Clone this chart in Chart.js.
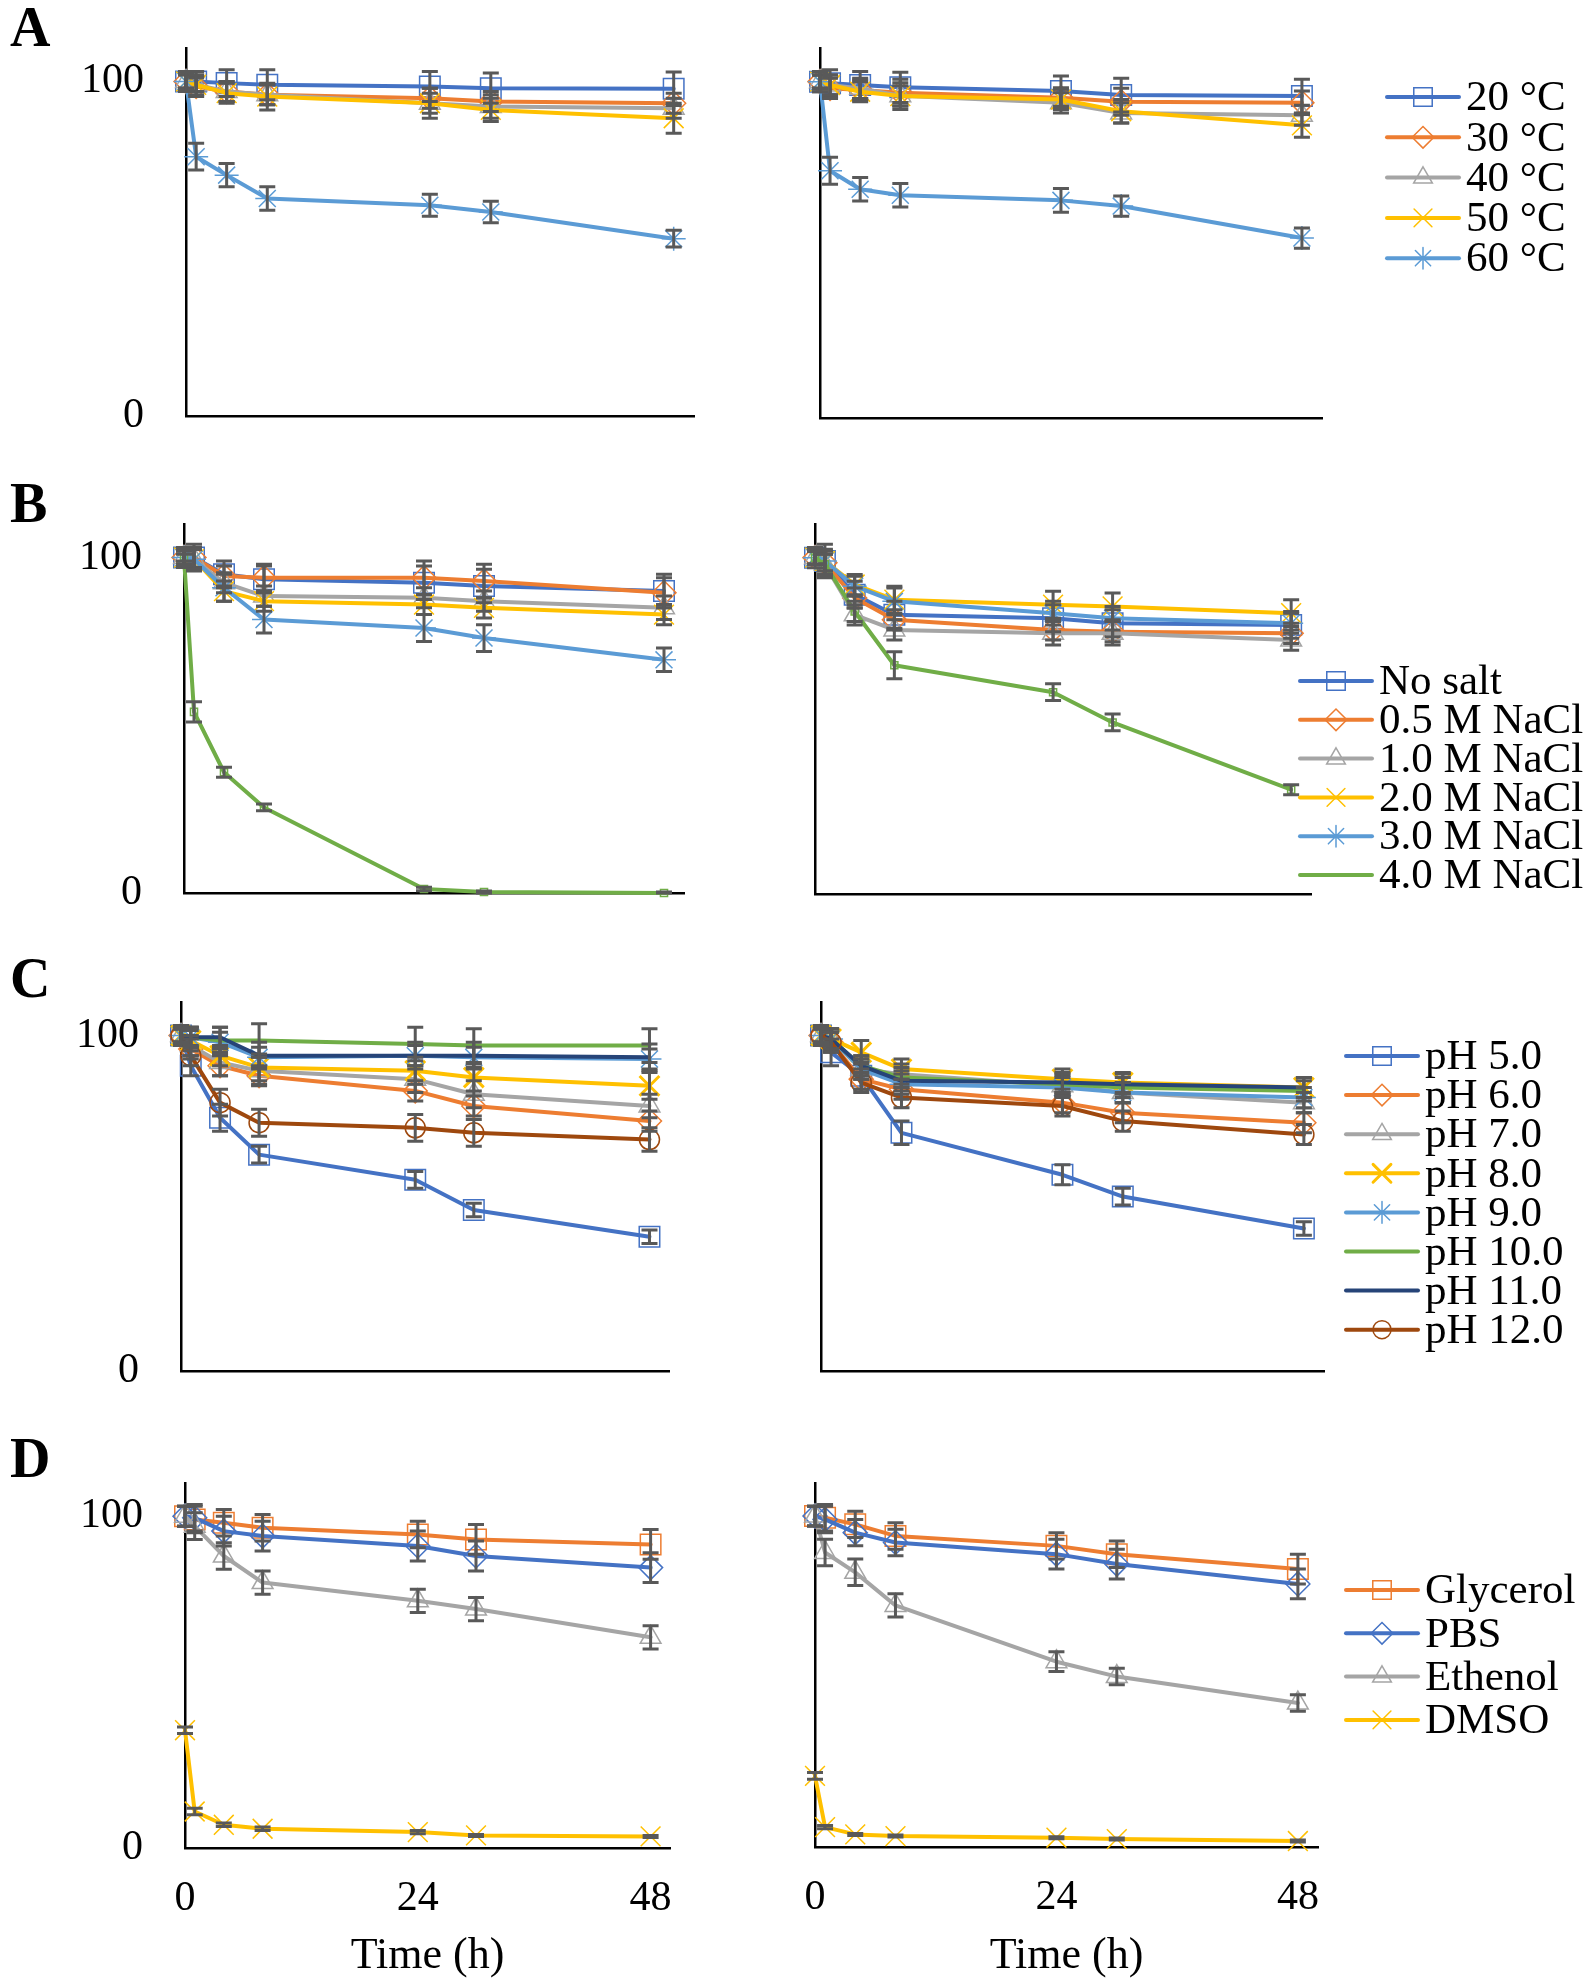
<!DOCTYPE html>
<html>
<head>
<meta charset="utf-8">
<script src="https://cdn.jsdelivr.net/npm/chart.js@4.4.1/dist/chart.umd.min.js"></script>
<style>
  body { margin: 0; background: #fff; }
  #page { position: relative; width: 1594px; height: 1987px; background: #fff; overflow: hidden; }
  canvas { position: absolute; }
  .tag { position: absolute; left: 10px; font-family: "Liberation Serif", serif; font-weight: bold; font-size: 56px; line-height: 56px; color: #000; }
</style>
</head>
<body>
<div id="page">
  <div class="tag" style="top:-1px">A</div>
  <div class="tag" style="top:475px">B</div>
  <div class="tag" style="top:950px">C</div>
  <div class="tag" style="top:1430px">D</div>
</div>
<script>
// sampling times (h), same for every panel
const hours = [0, 1, 4, 8, 24, 30, 48];
const xTicks = [0, 24, 48];
const yTicks = [0, 100];

// A - temperature
const tempNames = ['20 °C', '30 °C', '40 °C', '50 °C', '60 °C'];
const tempLeft = [
  [100, 100, 99.5, 99, 98.5, 98, 97.8],
  [100, 98.5, 97, 96, 95, 94, 93.5],
  [100, 99, 97, 96, 93.5, 92.5, 92],
  [100, 99, 96.5, 95.5, 93.5, 91.5, 89],
  [100, 77.5, 72, 65, 63, 61, 53]
];
const tempLeftErr = [
  [3, 3, 4, 4.5, 4.5, 4.5, 5],
  [2, 3, 3, 3, 3, 3, 3],
  [2, 2, 3, 3, 3, 3.5, 3],
  [2, 3, 3, 4, 4.5, 3.5, 4.5],
  [3, 4, 3.5, 3.5, 3.3, 3.2, 2.5]
];
const tempRight = [
  [100, 99.5, 99, 98.3, 97.2, 96, 95.7],
  [100, 98, 97.5, 96.7, 95.2, 94, 93.7],
  [100, 99, 98, 95.8, 93.7, 90.7, 90],
  [100, 99, 97, 95.7, 94.7, 91.2, 87],
  [100, 73.5, 68, 66.2, 64.7, 63, 53.5]
];
const tempRightErr = [
  [3, 4, 4, 4.5, 4.5, 5, 5],
  [2, 3, 3, 4, 3, 4, 3.5],
  [2, 3, 3, 3, 3, 3, 3],
  [2, 3, 3, 4, 3, 3.5, 3.5],
  [3, 4, 3.5, 3.5, 3.5, 3, 3]
];

// B - salt
const saltNames = ['No salt', '0.5 M NaCl', '1.0 M NaCl', '2.0 M NaCl', '3.0 M NaCl', '4.0 M NaCl'];
const saltLeft = [
  [100, 100, 95, 93.5, 92.5, 91.5, 90],
  [100, 100, 94.5, 94, 94, 93, 89.5],
  [100, 99.5, 92.5, 88.5, 88, 87, 85],
  [100, 99.5, 90, 87, 86, 85, 83],
  [100, 99.5, 91, 81.5, 79, 76, 69.5],
  [100, 54, 36, 25.5, 1.2, 0.3, 0]
];
const saltLeftErr = [
  [3, 4, 4, 4, 5, 5, 5],
  [2, 3, 3, 4, 5, 5, 4.5],
  [2, 3, 3, 3, 3, 3, 3.5],
  [2, 3, 3, 3, 3, 3, 3],
  [2, 3, 4, 4, 4, 4, 3.5],
  [1, 3, 1.5, 1, 0.5, 0.3, 0.3]
];
const saltRight = [
  [100, 99, 89, 83, 82, 80.5, 80],
  [100, 98.5, 88, 81.5, 78.5, 78, 77.5],
  [100, 98, 83, 78.5, 77.5, 77.5, 75.5],
  [100, 99, 92, 87.5, 86, 85.5, 83.5],
  [100, 99, 91.5, 87, 83.5, 82, 80.5],
  [100, 98, 84, 68, 60, 51, 31]
];
const saltRightErr = [
  [3, 5, 4, 4, 4, 4, 4],
  [2, 4, 3, 3, 3, 3, 3],
  [2, 3, 3, 3, 3.5, 3.5, 3],
  [2, 3, 3, 4, 4, 4, 4],
  [2, 3, 3, 4, 3.5, 3.5, 3],
  [2, 3, 3, 4, 2.5, 2.5, 1.5]
];

// C - pH
const phNames = ['pH 5.0', 'pH 6.0', 'pH 7.0', 'pH 8.0', 'pH 9.0', 'pH 10.0', 'pH 11.0', 'pH 12.0'];
const phLeft = [
  [100, 91, 75.5, 64.5, 57, 48, 40],
  [100, 96, 91, 88, 83.5, 79, 74.5],
  [100, 97, 92, 89.5, 87, 82.5, 79],
  [100, 98.5, 94, 90.5, 89.5, 87.5, 85],
  [100, 99.5, 98, 93.5, 94, 93.5, 93],
  [100, 99.5, 98.5, 98.5, 97.5, 97, 97],
  [100, 99.5, 99.5, 94, 94, 94, 93.5],
  [100, 94, 80, 74, 72.5, 71, 69]
];
const phLeftErr = [
  [3, 3, 4, 2.5, 2.5, 2, 2],
  [2, 3, 3, 3, 3, 3, 3],
  [2, 3, 4, 4, 4, 4, 3.5],
  [2, 3, 3, 4, 4, 4, 4],
  [2, 3, 3, 3, 3, 3, 3],
  [2, 3, 4, 5, 5, 5, 5],
  [2, 3, 3, 4, 4, 4, 4],
  [2, 3, 4, 4, 4, 4, 3.5]
];
const phRight = [
  [100, 95, 88, 71, 58.5, 52, 42.5],
  [100, 98, 87, 84, 80, 77, 74],
  [100, 99, 90, 88.5, 85, 83, 80],
  [100, 99, 95, 90, 87, 86, 84.5],
  [100, 99, 90, 85.5, 84.5, 83, 81.5],
  [100, 99, 91, 87.5, 85.5, 84.5, 83.5],
  [100, 99, 91, 86.5, 86, 85.5, 84.5],
  [100, 98, 86, 81.5, 79, 74.5, 70.5]
];
const phRightErr = [
  [3, 4, 4, 3.5, 3, 2.5, 2],
  [2, 3, 3, 3, 3, 3, 3],
  [2, 3, 3, 3, 3, 3, 3],
  [2, 3, 3.5, 3, 3, 3, 3],
  [2, 3, 3, 3, 3, 3, 3],
  [2, 3, 3, 3, 3, 3, 3],
  [2, 3, 3, 3, 3, 3, 3],
  [2, 3, 3, 3, 3, 3, 3]
];

// D - storage medium
const mediumNames = ['Glycerol', 'PBS', 'Ethenol', 'DMSO'];
const mediumLeft = [
  [100, 99, 98, 96.5, 94.5, 93, 91.5],
  [100, 99.5, 95.5, 94, 91, 88, 84.5],
  [100, 97, 88, 80, 74.5, 72, 63.5],
  [35.5, 11, 7, 5.8, 4.8, 3.8, 3.5]
];
const mediumLeftErr = [
  [3, 4, 4, 4, 4, 4.5, 4.5],
  [3, 4, 4.5, 4.5, 4.5, 4.5, 4.5],
  [3, 4, 4, 3.5, 3.5, 3.5, 3.5],
  [1, 1, 0.5, 0.5, 0.5, 0.3, 0.3]
];
const mediumRight = [
  [100, 99.5, 97.5, 94, 91, 88.5, 84],
  [100, 99, 95, 92, 88.5, 85.5, 79.5],
  [100, 89, 83, 73, 56, 51.5, 43.5],
  [21.5, 6, 3.8, 3.3, 2.8, 2.4, 1.8]
];
const mediumRightErr = [
  [3, 4, 4, 4, 4, 4, 4.5],
  [3, 4, 4, 4, 4.5, 4.5, 4.5],
  [3, 4, 4, 3.5, 3, 2.5, 2.5],
  [1, 0.5, 0.3, 0.3, 0.3, 0.3, 0.3]
];

// series looks (Excel office palette)
const BLUE = '#4472C4', ORANGE = '#ED7D31', GRAY = '#A5A5A5', GOLD = '#FFC000',
      LBLUE = '#5B9BD5', GREEN = '#70AD47', NAVY = '#264478', BROWN = '#9E480E';
const tempStyles = [
  {color: BLUE, marker: 'rect', size: 14.5},
  {color: ORANGE, marker: 'rectRot', size: 12},
  {color: GRAY, marker: 'triangle', size: 12},
  {color: GOLD, marker: 'crossRot', size: 14},
  {color: LBLUE, marker: 'star', size: 12}
];
const saltStyles = tempStyles.concat([{color: GREEN, marker: 'rect', size: 5, legendMarker: false}]);
const phStyles = [
  {color: BLUE, marker: 'rect', size: 14.5},
  {color: ORANGE, marker: 'rectRot', size: 12},
  {color: GRAY, marker: 'triangle', size: 12},
  {color: GOLD, marker: 'crossRot', size: 14, weight: 3},
  {color: LBLUE, marker: 'star', size: 12},
  {color: GREEN},
  {color: NAVY},
  {color: BROWN, marker: 'circle', size: 10}
];
const mediumStyles = [
  {color: ORANGE, marker: 'rect', size: 14.5},
  {color: BLUE, marker: 'rectRot', size: 12},
  {color: GRAY, marker: 'triangle', size: 12},
  {color: GOLD, marker: 'crossRot', size: 14}
];

Chart.defaults.font.family = "'Liberation Serif', 'Times New Roman', serif";
Chart.defaults.color = '#000';

const page = document.getElementById('page');

// vertical error bars with caps, drawn on top of the lines
const errorBars = {
  id: 'errorBars',
  afterDatasetsDraw(chart) {
    const ctx = chart.ctx;
    const y = chart.scales.y;
    ctx.save();
    ctx.strokeStyle = '#595959';
    ctx.lineWidth = 3;
    chart.data.datasets.forEach((ds, i) => {
      const meta = chart.getDatasetMeta(i);
      meta.data.forEach((pt, j) => {
        const e = ds.errors[j];
        if (!e) return;
        const v = ds.data[j].y;
        const top = y.getPixelForValue(v + e);
        const bot = y.getPixelForValue(Math.max(v - e, 0));
        ctx.beginPath();
        ctx.moveTo(pt.x, top); ctx.lineTo(pt.x, bot);
        ctx.moveTo(pt.x - 8, top); ctx.lineTo(pt.x + 8, top);
        ctx.moveTo(pt.x - 8, bot); ctx.lineTo(pt.x + 8, bot);
        ctx.stroke();
      });
    });
    ctx.restore();
  }
};

function sideLegend(pos) {
  return {
    id: 'sideLegend',
    afterDraw(chart) {
      const ctx = chart.ctx;
      ctx.save();
      chart.data.datasets.forEach((ds, i) => {
        const ly = pos.y + i * pos.gap;
        ctx.strokeStyle = ds.borderColor;
        ctx.lineWidth = ds.borderWidth;
        ctx.lineCap = 'round';
        ctx.beginPath();
        ctx.moveTo(pos.x, ly); ctx.lineTo(pos.x + 72, ly);
        ctx.stroke();
        if (ds.pointRadius > 0 && ds.legendMarker) {
          ctx.fillStyle = 'rgba(0,0,0,0)';
          ctx.lineWidth = ds.pointBorderWidth;
          Chart.helpers.drawPoint(ctx, {pointStyle: ds.pointStyle, radius: ds.pointRadius * 0.9, rotation: 0, borderWidth: ds.pointBorderWidth}, pos.x + 36, ly);
        }
        ctx.fillStyle = '#000';
        ctx.font = "43px 'Liberation Serif', serif";
        ctx.textBaseline = 'middle';
        ctx.textAlign = 'left';
        ctx.fillText(ds.label, pos.x + 79, ly + 2);
      });
      ctx.restore();
    }
  };
}

function panel(box, area, names, values, errors, styles, legend, showX, showY) {
  const cv = document.createElement('canvas');
  cv.width = box.w; cv.height = box.h;
  cv.style.left = box.x + 'px'; cv.style.top = box.y + 'px';
  cv.style.width = box.w + 'px'; cv.style.height = box.h + 'px';
  page.appendChild(cv);

  const datasets = names.map((name, i) => {
    const st = styles[i];
    return {
      label: name,
      data: hours.map((h, j) => ({x: h, y: values[i][j]})),
      errors: errors[i],
      borderColor: st.color,
      borderWidth: 4,
      borderCapStyle: 'round',
      borderJoinStyle: 'round',
      pointStyle: st.marker || 'circle',
      pointRadius: st.marker ? st.size : 0,
      pointBorderColor: st.color,
      pointBackgroundColor: 'rgba(0,0,0,0)',
      pointBorderWidth: st.weight || 1.5,
      legendMarker: st.legendMarker !== false,
      tension: 0,
      fill: false,
      clip: false,
      order: -i
    };
  });

  const plugins = [errorBars];
  if (legend) plugins.push(sideLegend({x: legend.x - box.x, y: legend.y - box.y, gap: legend.gap}));

  new Chart(cv, {
    type: 'line',
    data: {datasets},
    plugins,
    options: {
      responsive: false,
      animation: false,
      devicePixelRatio: 1,
      layout: {padding: {top: area.t - box.y, right: box.x + box.w - area.r, left: 0, bottom: 0}},
      plugins: {legend: {display: false}, tooltip: {enabled: false}},
      scales: {
        x: {
          type: 'linear', min: 0, max: 50,
          afterBuildTicks: s => { s.ticks = xTicks.map(v => ({value: v})); },
          afterFit: s => { s.height = box.y + box.h - area.b; s.paddingLeft = 0; s.paddingRight = 0; },
          grid: {display: false},
          border: {display: true, color: '#000', width: 2.5},
          ticks: {display: showX, padding: 18, font: {size: 42}, color: '#000', maxRotation: 0, autoSkip: false},
          title: {display: showX, text: 'Time (h)', color: '#000', font: {size: 44, lineHeight: 1.2}, padding: {top: 0, bottom: 4}}
        },
        y: {
          type: 'linear', min: 0, max: 110,
          afterBuildTicks: s => { s.ticks = yTicks.map(v => ({value: v})); },
          afterFit: s => { s.width = area.l - box.x; s.paddingTop = 0; s.paddingBottom = 0; },
          grid: {display: false},
          border: {display: true, color: '#000', width: 2.5},
          ticks: {display: showY, padding: 34, font: {size: 42}, color: '#000'}
        }
      }
    }
  });
}

panel({x: 40, y: 0, w: 700, h: 440}, {l: 186, r: 694, t: 48, b: 416}, tempNames, tempLeft, tempLeftErr, tempStyles, null, false, true);
panel({x: 760, y: 0, w: 834, h: 440}, {l: 820, r: 1322, t: 48, b: 418}, tempNames, tempRight, tempRightErr, tempStyles, {x: 1387, y: 97, gap: 40.3}, false, false);

panel({x: 40, y: 470, w: 700, h: 440}, {l: 184, r: 684, t: 524, b: 893}, saltNames, saltLeft, saltLeftErr, saltStyles, null, false, true);
panel({x: 760, y: 470, w: 834, h: 440}, {l: 815, r: 1311, t: 524, b: 895}, saltNames, saltRight, saltRightErr, saltStyles, {x: 1300, y: 681, gap: 38.8}, false, false);

panel({x: 40, y: 950, w: 700, h: 440}, {l: 181, r: 669, t: 1002, b: 1371}, phNames, phLeft, phLeftErr, phStyles, null, false, true);
panel({x: 760, y: 950, w: 834, h: 440}, {l: 821, r: 1324, t: 1002, b: 1371}, phNames, phRight, phRightErr, phStyles, {x: 1346, y: 1056, gap: 39.1}, false, false);

panel({x: 40, y: 1430, w: 700, h: 557}, {l: 185, r: 670, t: 1483, b: 1848}, mediumNames, mediumLeft, mediumLeftErr, mediumStyles, null, true, true);
panel({x: 760, y: 1430, w: 834, h: 557}, {l: 815, r: 1318, t: 1483, b: 1847}, mediumNames, mediumRight, mediumRightErr, mediumStyles, {x: 1346, y: 1590, gap: 43.3}, true, false);
</script>
</body>
</html>
